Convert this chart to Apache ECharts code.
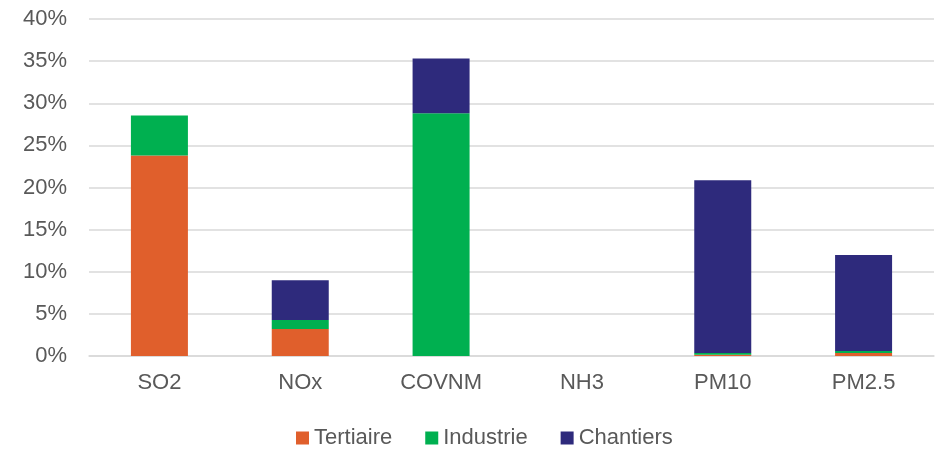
<!DOCTYPE html>
<html>
<head>
<meta charset="utf-8">
<script src="https://cdn.jsdelivr.net/npm/echarts@6/dist/echarts.min.js"></script>
<style>
  html, body { margin: 0; padding: 0; background: #fff; }
  #chart { width: 937px; height: 449px; }
</style>
</head>
<body>
<div id="chart"></div>
<script>
// Pollutants along the x axis
const categories = ['SO2', 'NOx', 'COVNM', 'NH3', 'PM10', 'PM2.5'];

// Share of emissions by sector (%)
const tertiaire = [23.8, 3.2, 0, 0, 0.15, 0.35];
const industrie = [4.75, 1.07, 28.8, 0, 0.2, 0.25];
const chantiers = [0, 4.71, 6.5, 0, 20.5, 11.4];

const yTicks = { min: 0, max: 40, interval: 5 };

const textColor = '#595959';
const font = 'Liberation Sans, Arial, sans-serif';

function barSeries(name, data, color) {
  return {
    name: name,
    type: 'bar',
    stack: 'total',
    barWidth: 57,
    data: data,
    itemStyle: { color: color },
    emphasis: { disabled: true }
  };
}

const chart = echarts.init(document.getElementById('chart'), null, { renderer: 'canvas' });
chart.setOption({
  animation: false,
  textStyle: { fontFamily: font },
  grid: { left: 89, right: 3, top: 19, bottom: 93 },
  legend: {
    top: 422,
    left: 291,
    itemWidth: 13,
    itemHeight: 13,
    itemGap: 33,
    icon: 'rect',
    textStyle: { color: textColor, fontSize: 22, fontFamily: font },
    data: ['Tertiaire', 'Industrie', 'Chantiers']
  },
  xAxis: {
    type: 'category',
    data: categories,
    axisLine: { show: true, lineStyle: { color: '#D9D9D9', width: 1.5 } },
    axisTick: { show: false },
    axisLabel: { color: textColor, fontSize: 22, margin: 16, fontFamily: font }
  },
  yAxis: {
    type: 'value',
    min: yTicks.min,
    max: yTicks.max,
    interval: yTicks.interval,
    axisLine: { show: false },
    axisTick: { show: false },
    splitLine: { lineStyle: { color: '#D9D9D9', width: 1.5 } },
    axisLabel: { color: textColor, fontSize: 22, margin: 22, fontFamily: font, formatter: '{value}%' }
  },
  series: [
    barSeries('Tertiaire', tertiaire, '#E05F2C'),
    barSeries('Industrie', industrie, '#00B050'),
    barSeries('Chantiers', chantiers, '#2E2A7C')
  ]
});
</script>
</body>
</html>
